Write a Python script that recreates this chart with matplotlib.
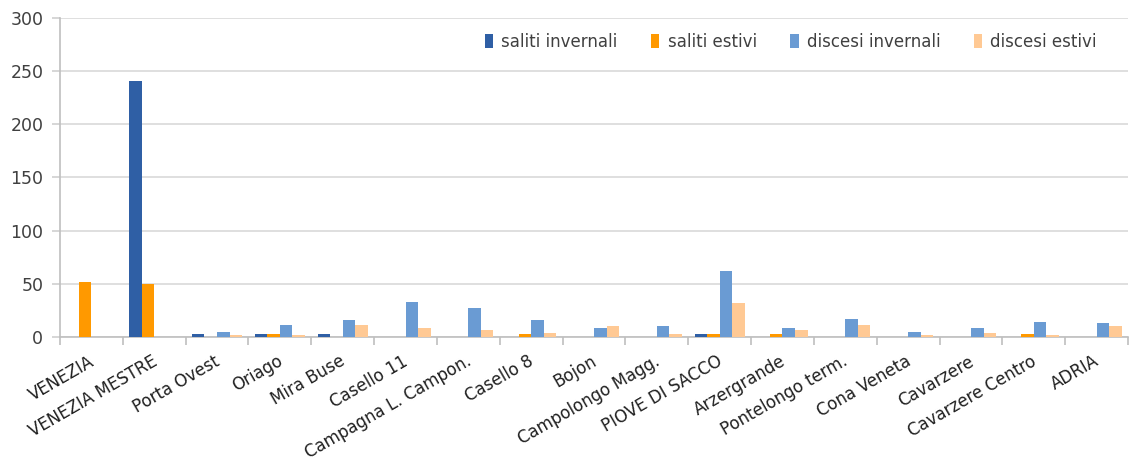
import matplotlib
matplotlib.use("Agg")
import matplotlib.pyplot as plt
import numpy as np

categories = ["VENEZIA", "VENEZIA MESTRE", "Porta Ovest", "Oriago", "Mira Buse",
              "Casello 11", "Campagna L. Campon.", "Casello 8", "Bojon",
              "Campolongo Magg.", "PIOVE DI SACCO", "Arzergrande",
              "Pontelongo term.", "Cona Veneta", "Cavarzere", "Cavarzere Centro", "ADRIA"]
saliti_invernali = [0, 241, 3, 3, 3, 0, 0, 0, 0, 0, 2.5, 0, 0, 0, 0, 0, 0]
saliti_estivi    = [52, 50, 0, 3, 0, 0, 0, 2.5, 0, 0, 2.5, 2.5, 0, 0, 0, 2.5, 0]
discesi_invernali = [0, 0, 5, 11, 16, 33, 27, 16, 8, 10, 62.5, 8, 17, 5, 8, 14.5, 13]
discesi_estivi    = [0, 0, 2, 2, 11, 8, 6.5, 4, 10, 2.5, 32, 6.5, 11.5, 2, 4, 2, 10]
series_names = ["saliti invernali", "saliti estivi", "discesi invernali", "discesi estivi"]
colors = ["#2F5FA5", "#FF9900", "#6A9BD3", "#FFC994"]

plt.rcParams['font.family'] = ['DejaVu Sans']
fig = plt.figure(figsize=(11.3, 4.75), dpi=100)
ax = fig.add_axes([60/1130, 1-337/475, 1068/1130, (337-18)/475])

x = np.arange(len(categories))
w = 0.2
allvals = [saliti_invernali, saliti_estivi, discesi_invernali, discesi_estivi]
for i, (vals, name, c) in enumerate(zip(allvals, series_names, colors)):
    ax.bar(x + (i - 1.5) * w, vals, width=w, color=c, label=name, zorder=3)

ax.set_xlim(-0.5, len(categories) - 0.5)
ax.set_ylim(0, 300)
ax.set_yticks(range(0, 301, 50))
ax.yaxis.grid(True, color="#D9D9D9", linewidth=1.2, zorder=0)
for s in ["top", "right"]:
    ax.spines[s].set_visible(False)
for s in ["bottom", "left"]:
    ax.spines[s].set_color("#BFBFBF")
    ax.spines[s].set_linewidth(1.2)
ax.tick_params(axis="y", length=6, width=1.2, color="#D0D0D0",
               labelsize=12.5, labelcolor="#404040", pad=6)
ax.set_xticks(x - 0.05)
ax.set_xticklabels(categories, rotation=30, ha="right", rotation_mode="anchor",
                   fontsize=12, color="#202020")
ax.tick_params(axis="x", which="major", length=0, pad=11)
ax.set_xticks(np.arange(-0.5, len(categories) - 0.4, 1), minor=True)
ax.tick_params(axis="x", which="minor", length=6, color="#BFBFBF", width=1.2)

leg = ax.legend(loc="upper right", ncol=4, frameon=False, fontsize=12,
                bbox_to_anchor=(0.985, 1.0), handlelength=0.5, handleheight=0.9,
                handletextpad=0.5, columnspacing=2.0)
for t in leg.get_texts():
    t.set_color("#404040")

fig.savefig("out.png", dpi=100)
